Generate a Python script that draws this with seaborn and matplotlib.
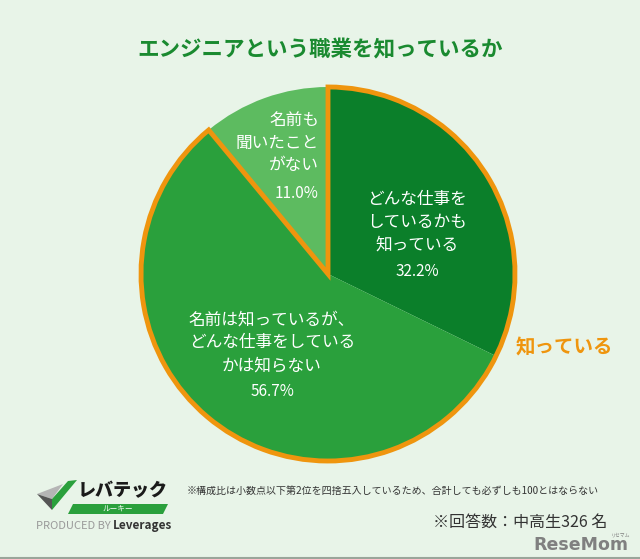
import matplotlib
matplotlib.use("Agg")
import matplotlib.pyplot as plt
import matplotlib.patches as mpatches
import seaborn as sns

# data
categories = ["どんな仕事を\nしているかも\n知っている",
              "名前は知っているが、\nどんな仕事をしている\nかは知らない",
              "名前も\n聞いたこと\nがない"]
shares = [32.2, 56.7, 11.0]
share_labels = ["32.2%", "56.7%", "11.0%"]
title = "エンジニアという職業を知っているか"
group_label = "知っている"
note = "※構成比は小数点以下第2位を四捨五入しているため、合計しても必ずしも100とはならない"
sample = "※回答数：中高生326 名"

BG = "#e8f4e8"
GREENS = ["#0b7f2a", "#2aa03c", "#5dbb60"]
ORANGE = "#ef950e"
TITLE_GREEN = "#1a8a30"

sns.set_theme(style="white")
plt.rcParams["font.family"] = ["Noto Sans CJK JP", "DejaVu Sans"]

W, H = 640, 559
fig = plt.figure(figsize=(W / 100, H / 100), dpi=100, facecolor=BG)
ax = fig.add_axes([0, 0, 1, 1])
ax.set_facecolor(BG)


def Y(py):
    return H - py


cx, cy, r = 328, Y(274), 187
wedges, _ = ax.pie(shares, colors=GREENS, startangle=90, counterclock=False,
                   center=(cx, cy), radius=r, frame=True,
                   wedgeprops=dict(linewidth=0))
ax.set_xlim(0, W)
ax.set_ylim(0, H)
ax.set_aspect("equal")
ax.axis("off")

# orange outline round the "know" group
t1 = wedges[1].theta1
t2 = wedges[0].theta2
ax.add_patch(mpatches.Wedge((cx, cy), r, t1, t2, facecolor="none",
                            edgecolor=ORANGE, linewidth=3.5, joinstyle="miter"))

# slice labels
ax.text(417, Y(222), categories[0], color="white", fontsize=12,
        ha="center", va="center", linespacing=1.45)
ax.text(417, Y(272), share_labels[0], color="white", fontsize=11,
        ha="center", va="center")
ax.text(272, Y(343), categories[1], color="white", fontsize=12,
        ha="center", va="center", linespacing=1.45)
ax.text(273, Y(392), share_labels[1], color="white", fontsize=11,
        ha="center", va="center")
ax.text(319, Y(143), categories[2], color="white", fontsize=12,
        ha="right", va="center", linespacing=1.4, multialignment="right")
ax.text(319, Y(194), share_labels[2], color="white", fontsize=11,
        ha="right", va="center")

ax.text(W / 2, Y(50), title, color=TITLE_GREEN, fontsize=15.5,
        fontweight="bold", ha="center", va="center")
ax.text(516, Y(348), group_label, color=ORANGE, fontsize=14,
        fontweight="bold", ha="left", va="center")

# footer
ax.text(187, Y(491), note, color="#333333", fontsize=7.2, ha="left", va="center")
ax.text(607, Y(522), sample, color="#333333", fontsize=11.5, ha="right", va="center")

# logo
ax.add_patch(mpatches.Polygon([(37, Y(494)), (63, Y(484)), (52, Y(499))],
                              closed=True, color="#b5b5b5", lw=0))
ax.add_patch(mpatches.Polygon([(37, Y(494)), (52, Y(499)), (52, Y(510))],
                              closed=True, color="#555555", lw=0))
ax.add_patch(mpatches.Polygon([(52, Y(499)), (68, Y(481)), (77, Y(480)), (52, Y(510))],
                              closed=True, color="#2aa03c", lw=0))
ax.text(123, Y(491), "レバテック", color="#1a1a1a", fontsize=13, fontweight="heavy",
        ha="center", va="center")
ax.add_patch(mpatches.Polygon([(68, Y(514)), (163, Y(514)), (168, Y(504)), (73, Y(504))],
                              closed=True, color="#2aa03c", lw=0))
ax.text(118, Y(509), "ルーキー", color="white", fontsize=5.5, ha="center", va="center")
ax.text(36, Y(526), "PRODUCED BY", color="#9a9a9a", fontsize=8, ha="left", va="center")
ax.text(113, Y(526), "Leverages", color="#333333", fontsize=8.5, fontweight="bold",
        ha="left", va="center")

# watermark
ax.text(628, Y(545), "ReseMom", color="#808080", fontsize=12.5, fontweight="bold",
        family="DejaVu Sans", ha="right", va="center")
ax.text(621, Y(535), "リセマム", color="#808080", fontsize=3.5, ha="center", va="center")

ax.plot([0, W], [Y(557.5), Y(557.5)], color="#9aa59a", lw=1.5)

fig.savefig("out.png", dpi=100, facecolor=BG)
